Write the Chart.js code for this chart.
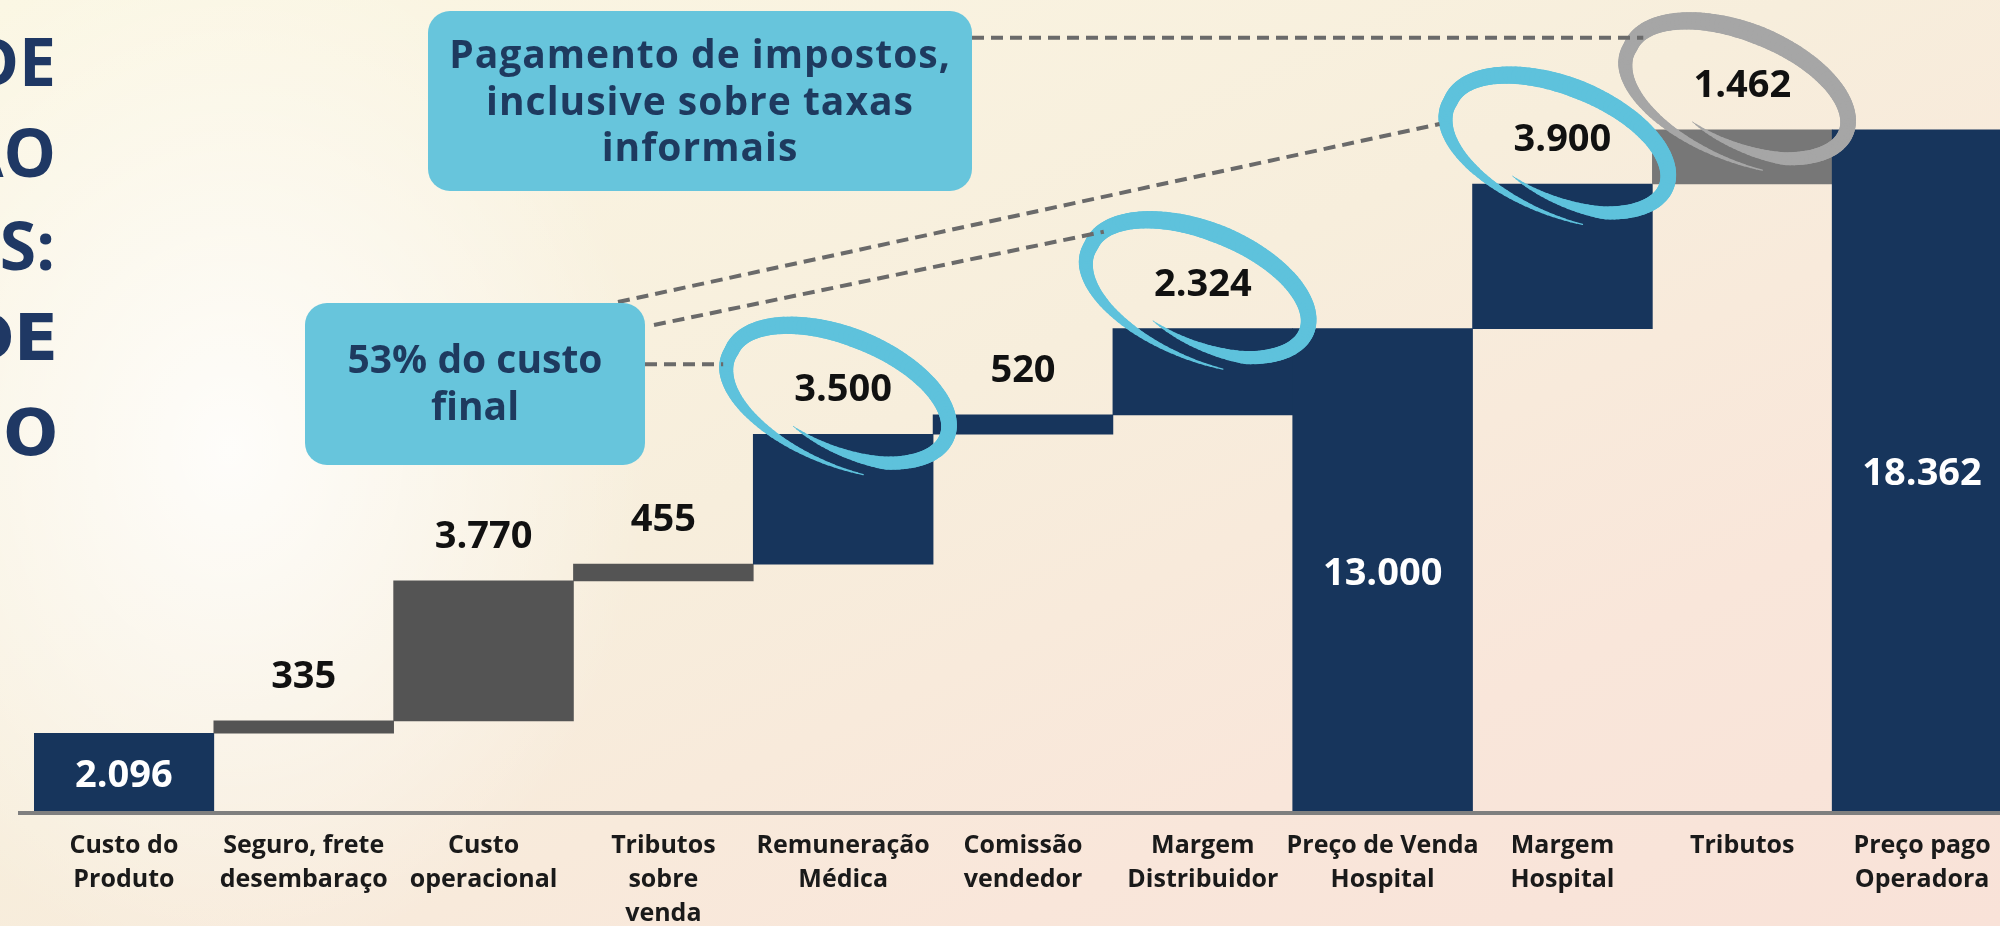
<!DOCTYPE html>
<html>
<head>
<meta charset="utf-8">
<script src="https://cdn.jsdelivr.net/npm/chart.js@4.4.1/dist/chart.umd.min.js"></script>
<style>
  html, body { margin: 0; padding: 0; overflow: hidden; width: 2000px; height: 926px; }
  body {
    background:
      radial-gradient(ellipse 420px 520px at 230px 450px, rgba(255,255,255,0.85), rgba(255,255,255,0) 100%),
      linear-gradient(155deg, #fbf7e4 0%, #f7eedc 45%, #f9e6da 75%, #f9e2d8 100%);
  }
  canvas { display: block; }
</style>
</head>
<body>
<canvas id="chart" width="2012" height="926"></canvas>
<script>
// waterfall: cost build-up of the product up to the price paid by the operator
const categories = [
  ['Custo do', 'Produto'],
  ['Seguro, frete', 'desembaraço'],
  ['Custo', 'operacional'],
  ['Tributos', 'sobre', 'venda'],
  ['Remuneração', 'Médica'],
  ['Comissão', 'vendedor'],
  ['Margem', 'Distribuidor'],
  ['Preço de Venda', 'Hospital'],
  ['Margem', 'Hospital'],
  ['Tributos'],
  ['Preço pago', 'Operadora']
];
const values = [2096, 335, 3770, 455, 3500, 520, 2324, 13000, 3900, 1462, 18362];
const isTotal = [true, false, false, false, false, false, false, true, false, false, true];
const valueLabels = ['2.096', '335', '3.770', '455', '3.500', '520', '2.324', '13.000', '3.900', '1.462', '18.362'];
const barColors = ['#17355c', '#545454', '#545454', '#545454', '#17355c', '#17355c',
                   '#17355c', '#17355c', '#17355c', '#777777', '#17355c'];
const circled = [4, 6, 8, 9];
const circleColors = ['#5ec2dc', '#5ec2dc', '#5ec2dc', '#a6a6a6'];

// floating ranges built from the step values
let running = 0;
const ranges = values.map((v, i) => {
  if (isTotal[i]) { running = v; return [0, v]; }
  const r = [running, running + v];
  running += v;
  return r;
});

const NAVY_TEXT = '#1e3a5f';
const BOX = '#67c5dc';

// hand-drawn looking ring: variable width stroke that curls inward at the end
function brushEllipse(ctx, cx, cy, color) {
  const a = 116, b = 58, phi = 0.38;
  const t0 = Math.PI * 0.38, t1 = Math.PI * 2.6, n = 160;
  const pts = [];
  for (let k = 0; k <= n; k++) {
    const t = t0 + (t1 - t0) * k / n;
    let s = 1;
    if (t < Math.PI) s = 1 + 0.22 * (Math.PI - t) / (Math.PI - t0);
    if (t > Math.PI * 2.3) s = 1 - 0.15 * (t - Math.PI * 2.3) / (t1 - Math.PI * 2.3);
    let w;
    if (t < Math.PI * 0.9) w = 1 + 13 * (t - t0) / (Math.PI * 0.9 - t0);
    else if (t < Math.PI * 1.5) w = 14 + 5 * (t - Math.PI * 0.9) / (Math.PI * 0.6);
    else if (t < Math.PI * 2.3) w = 19 - 6 * (t - Math.PI * 1.5) / (Math.PI * 0.8);
    else w = 13 - 12 * (t - Math.PI * 2.3) / (t1 - Math.PI * 2.3);
    const ex = a * s * Math.cos(t), ey = b * s * Math.sin(t);
    pts.push({
      x: cx + ex * Math.cos(phi) - ey * Math.sin(phi),
      y: cy + ex * Math.sin(phi) + ey * Math.cos(phi),
      w: w
    });
  }
  ctx.save();
  ctx.strokeStyle = color;
  ctx.lineCap = 'round';
  for (let k = 1; k < pts.length; k++) {
    ctx.lineWidth = pts[k].w;
    ctx.beginPath();
    ctx.moveTo(pts[k - 1].x, pts[k - 1].y);
    ctx.lineTo(pts[k].x, pts[k].y);
    ctx.stroke();
  }
  ctx.restore();
}

function callout(ctx, x, y, w, h, lines, lineYs, font, spacing) {
  ctx.save();
  ctx.fillStyle = BOX;
  ctx.beginPath();
  ctx.roundRect(x, y, w, h, 22);
  ctx.fill();
  ctx.fillStyle = NAVY_TEXT;
  ctx.font = font;
  ctx.letterSpacing = spacing;
  ctx.textAlign = 'center';
  ctx.textBaseline = 'middle';
  lines.forEach((l, i) => ctx.fillText(l, x + w / 2, lineYs[i]));
  ctx.restore();
}

function dashed(ctx, x1, y1, x2, y2) {
  ctx.save();
  ctx.strokeStyle = '#6a6a6a';
  ctx.lineWidth = 4;
  ctx.setLineDash([12, 7]);
  ctx.beginPath();
  ctx.moveTo(x1, y1);
  ctx.lineTo(x2, y2);
  ctx.stroke();
  ctx.restore();
}

const decorations = {
  id: 'decorations',
  beforeDatasetsDraw(chart) {
    const ctx = chart.ctx;
    const y0 = chart.scales.y.getPixelForValue(0);
    ctx.save();
    ctx.fillStyle = '#7f7f7f';
    ctx.fillRect(chart.chartArea.left - 16, y0, chart.width, 4);
    ctx.restore();

    // left title fragments (cut by the page edge)
    ctx.save();
    ctx.fillStyle = '#1f3864';
    ctx.textAlign = 'right';
    ctx.textBaseline = 'alphabetic';
    ctx.font = '700 66px "Open Sans"';
    ctx.fillText('DE', 56, 86);
    ctx.fillText('AO', 56, 177);
    ctx.fillText('S:', 55, 270);
    ctx.font = 'bold 64px "DejaVu Sans"';
    ctx.fillText('DE', 58, 360);
    ctx.fillText('IO', 58, 455);
    ctx.restore();
  },
  afterDatasetsDraw(chart) {
    const ctx = chart.ctx;
    const meta = chart.getDatasetMeta(0);
    const labelPos = [];
    ctx.save();
    ctx.font = '700 38px "Open Sans"';
    ctx.textAlign = 'center';
    ctx.textBaseline = 'middle';
    meta.data.forEach((bar, i) => {
      const top = Math.min(bar.y, bar.base);
      const bottom = Math.max(bar.y, bar.base);
      let ly;
      if (isTotal[i]) {
        ly = (top + bottom) / 2 + 4;
        ctx.fillStyle = '#ffffff';
      } else {
        ly = top - 44;
        ctx.fillStyle = '#111111';
      }
      labelPos.push({ x: bar.x, y: ly });
      ctx.fillText(valueLabels[i], bar.x, ly);
    });
    ctx.restore();

    // highlight rings
    const centers = {};
    circled.forEach((idx, k) => {
      const c = { x: labelPos[idx].x - 4, y: labelPos[idx].y + 4 };
      centers[idx] = c;
      brushEllipse(ctx, c.x, c.y, circleColors[k]);
    });

    // callouts and leader lines
    const e9 = { x: centers[9].x - 95, y: centers[9].y - 52 };
    dashed(ctx, 972, e9.y, e9.x, e9.y);
    dashed(ctx, 618, 302, centers[8].x - 119, centers[8].y - 20);
    dashed(ctx, 654, 325, centers[6].x - 95, centers[6].y - 57);
    const e4 = { x: centers[4].x - 116, y: centers[4].y - 30 };
    dashed(ctx, 645, e4.y, e4.x, e4.y);

    callout(ctx, 428, 11, 544, 180,
      ['Pagamento de impostos,', 'inclusive sobre taxas', 'informais'],
      [57, 104, 150], '700 39px "Open Sans"', '1px');
    callout(ctx, 305, 303, 340, 162,
      ['53% do custo', 'final'],
      [362, 409], '700 39px "Open Sans"', '0px');
  }
};

const ctx = document.getElementById('chart').getContext('2d');
new Chart(ctx, {
  type: 'bar',
  data: {
    labels: categories,
    datasets: [{
      data: ranges,
      backgroundColor: barColors,
      borderWidth: 0,
      borderSkipped: false,
      barPercentage: 1,
      categoryPercentage: 1
    }]
  },
  options: {
    responsive: false,
    animation: false,
    layout: { padding: { left: 34, right: 0, top: 69, bottom: 0 } },
    plugins: {
      legend: { display: false },
      tooltip: { enabled: false }
    },
    scales: {
      x: {
        grid: { display: false, drawTicks: false },
        border: { display: false },
        ticks: {
          autoSkip: false,
          maxRotation: 0,
          padding: 18,
          color: '#1a1a1a',
          font: { family: 'Open Sans', weight: '700', size: 25, lineHeight: 1.36 }
        },
        afterFit(scale) { scale.height = 115; }
      },
      y: { display: false, min: 0, max: 20000 }
    }
  },
  plugins: [decorations]
});
</script>
</body>
</html>
